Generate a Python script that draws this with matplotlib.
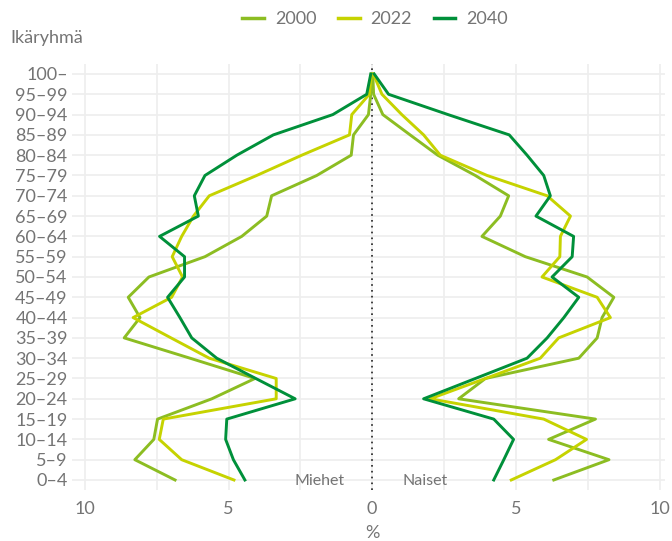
import numpy as np
import matplotlib.pyplot as plt
from matplotlib.lines import Line2D

# age groups, from youngest to oldest
ageGroups = ["0–4", "5–9", "10–14", "15–19", "20–24", "25–29", "30–34", "35–39",
             "40–44", "45–49", "50–54", "55–59", "60–64", "65–69", "70–74",
             "75–79", "80–84", "85–89", "90–94", "95–99", "100–"]

# share of men (%), per age group
men2000 = [6.86, 8.26, 7.60, 7.47, 5.58, 4.08, 6.34, 8.63, 8.08, 8.49, 7.77,
           5.82, 4.54, 3.67, 3.50, 1.93, 0.73, 0.65, 0.13, 0.05, 0.0]
men2022 = [4.81, 6.63, 7.41, 7.27, 3.34, 3.34, 5.67, 7.0, 8.32, 6.98, 6.60,
           6.96, 6.63, 6.22, 5.67, 4.02, 2.45, 0.79, 0.71, 0.10, 0.03]
men2040 = [4.43, 4.83, 5.10, 5.06, 2.68, 4.05, 5.41, 6.28, 6.69, 7.12, 6.53,
           6.53, 7.40, 6.05, 6.19, 5.82, 4.71, 3.44, 1.37, 0.19, 0.05]

# share of women (%), per age group
women2000 = [6.32, 8.24, 6.14, 7.77, 3.01, 3.94, 7.19, 7.83, 8.00, 8.41, 7.48,
             5.33, 3.82, 4.46, 4.75, 3.59, 2.28, 1.32, 0.37, 0.05, 0.02]
women2022 = [4.84, 6.38, 7.46, 5.97, 2.02, 3.94, 5.85, 6.49, 8.29, 7.83, 5.91,
             6.53, 6.55, 6.90, 6.09, 4.00, 2.37, 1.79, 1.03, 0.34, 0.04]
women2040 = [4.23, 4.58, 4.92, 4.23, 1.79, 3.59, 5.39, 6.09, 6.67, 7.19, 6.26,
             6.96, 7.01, 5.70, 6.20, 5.97, 5.39, 4.77, 2.64, 0.57, 0.07]

years = ["2000", "2022", "2040"]
colors = ["#8cbd22", "#c6d300", "#00903a"]
grey = "#747474"

plt.rcParams['font.family'] = ['Lato', 'DejaVu Sans']

fig = plt.figure(figsize=(6.72, 5.41), dpi=100)
ax = fig.add_axes([0.107, 0.094, 0.883, 0.788])

y = np.arange(len(ageGroups))
menData = [men2000, men2022, men2040]
womenData = [women2000, women2022, women2040]

# grid lines
for gx in np.arange(-10, 10.1, 2.5):
    ax.axvline(gx, color="#eeeeee", lw=1.2, zorder=0)
for gy in y:
    ax.axhline(gy, color="#eeeeee", lw=1.2, zorder=0)

for i in range(3):
    ax.plot(-np.array(menData[i]), y, color=colors[i], lw=2.1, zorder=3)
    ax.plot(np.array(womenData[i]), y, color=colors[i], lw=2.1, zorder=3)

ax.axvline(0, color="#222222", lw=1.2, ls=(0, (1, 2.5)), zorder=2)

ax.set_xlim(-10.45, 10.2)
ax.set_ylim(-0.5, 20.5)
ax.set_xticks([-10, -5, 0, 5, 10])
ax.set_xticklabels(["10", "5", "0", "5", "10"])
ax.set_yticks(y)
ax.set_yticklabels(ageGroups)
ax.tick_params(length=0, labelsize=13, colors=grey, pad=3)
ax.tick_params(axis='x', pad=8)
for s in ax.spines.values():
    s.set_visible(False)

ax.text(-0.95, -0.05, "Miehet", ha="right", va="center", fontsize=11.5, color=grey)
ax.text(1.05, -0.05, "Naiset", ha="left", va="center", fontsize=11.5, color=grey)

fig.text(10 / 672, 1 - 38 / 541, "Ikäryhmä", ha="left", va="center", fontsize=13, color=grey)
fig.text(372 / 672, 1 - 533 / 541, "%", ha="center", va="center", fontsize=13, color=grey)

handles = [Line2D([0], [0], color=c, lw=2.5) for c in colors]
leg = fig.legend(handles, years, loc="center", bbox_to_anchor=(375 / 672, 1 - 19 / 541),
                 ncol=3, frameon=False, fontsize=13, handlelength=1.2, handletextpad=0.6,
                 columnspacing=1.2)
for t in leg.get_texts():
    t.set_color(grey)

fig.savefig("out.png", dpi=100)
